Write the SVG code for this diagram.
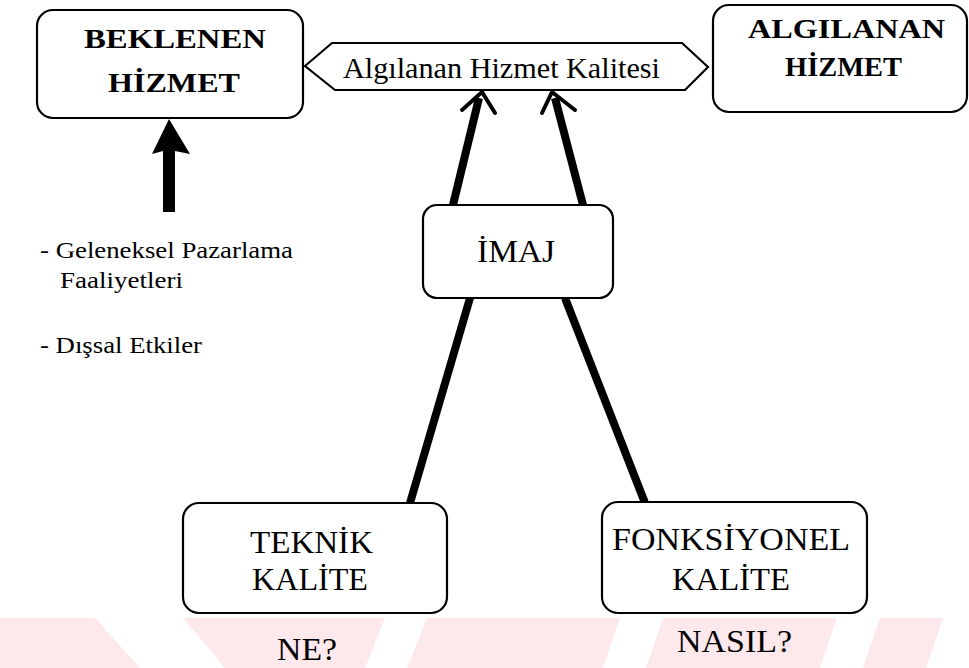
<svg xmlns="http://www.w3.org/2000/svg" width="969" height="668" viewBox="0 0 969 668">
  <style>
    .box { fill: #ffffff; stroke: #000000; stroke-width: 2.2; }
    .t { font-family: "Liberation Serif", "DejaVu Serif", serif; fill: #000000; }
    .b { font-weight: bold; font-size: 27px; }
    .h { font-size: 29px; }
    .n { font-size: 31px; }
    .s { font-size: 24px; }
    .thick { stroke: #000000; stroke-width: 8; stroke-linecap: butt; fill: none; }
    .wing { stroke: #000000; stroke-width: 4; fill: none; stroke-linejoin: miter; stroke-linecap: round; }
    .mark { fill: #fde8ec; }
  </style>

  <rect width="969" height="668" fill="#ffffff"/>

  <!-- faint background band along the bottom edge -->
  <g id="watermark">
    <polygon class="mark" points="0,618 95,618 140,668 0,668"/>
    <polygon class="mark" points="183,618 385,618 365,668 225,668"/>
    <polygon class="mark" points="427,618 620,618 603,668 407,668"/>
    <polygon class="mark" points="663,618 837,618 820,668 646,668"/>
    <polygon class="mark" points="880,618 943,618 926,668 863,668"/>
  </g>

  <!-- connectors -->
  <g id="connectors">
    <!-- external inputs to expected service -->
    <polygon points="169,119 152,154 163,151 163,212 175,212 175,151 190,154" fill="#000000"/>
    <!-- image to perceived quality -->
    <line class="thick" x1="453" y1="205" x2="479" y2="98"/>
    <polyline class="wing" points="462,110 482,92 495,113"/>
    <line class="thick" x1="583" y1="205" x2="555" y2="98"/>
    <polyline class="wing" points="542,113 552,92 575,110"/>
    <!-- quality dimensions to image -->
    <line class="thick" x1="470" y1="298" x2="410" y2="503"/>
    <line class="thick" x1="565" y1="298" x2="645" y2="503"/>
  </g>

  <g id="beklenen">
    <rect class="box" x="37" y="10" width="266" height="108" rx="16"/>
    <text class="t b" x="84" y="48" textLength="182" lengthAdjust="spacingAndGlyphs">BEKLENEN</text>
    <text class="t b" x="108" y="92" textLength="132" lengthAdjust="spacingAndGlyphs">HİZMET</text>
  </g>

  <g id="kalite-algisi">
    <polygon class="box" points="305,66 332,43 682,43 708,67 685,90 335,90"/>
    <text class="t h" x="343" y="78" textLength="317" lengthAdjust="spacingAndGlyphs">Algılanan Hizmet Kalitesi</text>
  </g>

  <g id="algilanan">
    <rect class="box" x="713" y="5" width="254" height="107" rx="16"/>
    <text class="t b" x="748" y="38" textLength="197" lengthAdjust="spacingAndGlyphs">ALGILANAN</text>
    <text class="t b" x="785" y="76" textLength="117" lengthAdjust="spacingAndGlyphs">HİZMET</text>
  </g>

  <g id="etkenler">
    <text class="t s" x="40" y="258" textLength="253" lengthAdjust="spacingAndGlyphs">- Geleneksel Pazarlama</text>
    <text class="t s" x="60" y="288" textLength="123" lengthAdjust="spacingAndGlyphs">Faaliyetleri</text>
    <text class="t s" x="40" y="353" textLength="162" lengthAdjust="spacingAndGlyphs">- Dışsal Etkiler</text>
  </g>

  <g id="imaj">
    <rect class="box" x="423" y="205" width="190" height="93" rx="14"/>
    <text class="t n" x="477" y="262" textLength="78" lengthAdjust="spacingAndGlyphs">İMAJ</text>
  </g>

  <g id="teknik">
    <rect class="box" x="183" y="503" width="264" height="110" rx="16"/>
    <text class="t n" x="250" y="553" textLength="123" lengthAdjust="spacingAndGlyphs">TEKNİK</text>
    <text class="t n" x="252" y="590" textLength="116" lengthAdjust="spacingAndGlyphs">KALİTE</text>
    <text class="t n" x="277" y="660" textLength="60" lengthAdjust="spacingAndGlyphs">NE?</text>
  </g>

  <g id="fonksiyonel">
    <rect class="box" x="602" y="502" width="265" height="111" rx="16"/>
    <text class="t n" x="612" y="550" textLength="238" lengthAdjust="spacingAndGlyphs">FONKSİYONEL</text>
    <text class="t n" x="672" y="590" textLength="118" lengthAdjust="spacingAndGlyphs">KALİTE</text>
    <text class="t n" x="677" y="652" textLength="115" lengthAdjust="spacingAndGlyphs">NASIL?</text>
  </g>
</svg>
